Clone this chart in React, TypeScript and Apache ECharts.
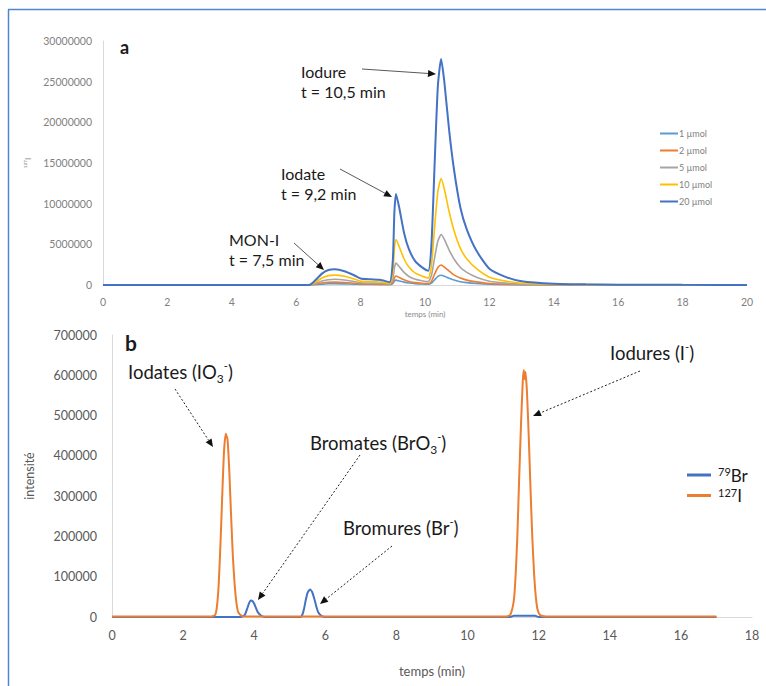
import React, { useEffect, useRef } from "react";
import * as echarts from "echarts";

// ---------- Chart a : 127I chromatograms at several concentrations ----------
const timesA = [0, 6.4, 6.6, 6.8, 7.0, 7.2, 7.5, 7.8, 8.0, 8.3, 8.6, 8.9, 9.0, 9.05, 9.1, 9.2, 9.35, 9.5, 9.7, 9.9, 10.1, 10.2, 10.3, 10.4, 10.5, 10.6, 10.75, 10.9, 11.1, 11.3, 11.6, 12.0, 12.5, 13.0, 14.0, 15.0, 16.0, 18.0, 20.0];
const umol1 = [0, 0, 45000, 110000, 150000, 160000, 140000, 100000, 65000, 55000, 50000, 28000, 160000, 480000, 600000, 500000, 350000, 240000, 160000, 120000, 90000, 220000, 650000, 1050000, 1200000, 1080000, 820000, 610000, 410000, 290000, 180000, 86000, 43000, 20000, 7000, 4000, 2000, 1000, 500];
const umol2 = [0, 0, 100000, 240000, 330000, 350000, 310000, 220000, 140000, 120000, 110000, 60000, 300000, 850000, 1100000, 920000, 640000, 440000, 290000, 220000, 175000, 450000, 1350000, 2150000, 2450000, 2200000, 1700000, 1250000, 850000, 600000, 380000, 180000, 90000, 40000, 15000, 8000, 4000, 2000, 1000];
const umol5 = [0, 0, 200000, 480000, 650000, 700000, 620000, 430000, 280000, 240000, 220000, 120000, 700000, 2100000, 2700000, 2250000, 1550000, 1050000, 700000, 530000, 420000, 1150000, 3400000, 5400000, 6200000, 5600000, 4300000, 3200000, 2150000, 1550000, 950000, 460000, 230000, 100000, 40000, 20000, 10000, 5000, 2000];
const umol10 = [0, 0, 350000, 850000, 1150000, 1220000, 1080000, 750000, 480000, 400000, 370000, 200000, 1500000, 4500000, 5600000, 4700000, 3200000, 2200000, 1450000, 1100000, 850000, 2400000, 7200000, 11500000, 13100000, 11800000, 9000000, 6700000, 4500000, 3200000, 2000000, 950000, 480000, 220000, 80000, 40000, 20000, 10000, 5000];
const umol20 = [0, 0, 600000, 1400000, 1850000, 1930000, 1700000, 1200000, 800000, 700000, 650000, 350000, 3000000, 9000000, 11200000, 9500000, 6400000, 4400000, 2900000, 2200000, 1750000, 5000000, 15000000, 24500000, 27800000, 25000000, 19000000, 14200000, 9500000, 6800000, 4200000, 2000000, 1000000, 450000, 150000, 80000, 40000, 20000, 10000];
const seriesNamesA = ["1 µmol", "2 µmol", "5 µmol", "10 µmol", "20 µmol"];
const seriesValuesA = [umol1, umol2, umol5, umol10, umol20];
const colorsA = ["#5b9bd5", "#ed7d31", "#a5a5a5", "#ffc000", "#4472c4"];

// ---------- Chart b : 79Br and 127I ----------
const brTimes = [0, 3.6, 3.7, 3.75, 3.8, 3.85, 3.9, 3.95, 4.0, 4.05, 4.1, 4.2, 4.3, 5.3, 5.35, 5.4, 5.45, 5.5, 5.57, 5.63, 5.7, 5.75, 5.8, 5.9, 6.0, 11.2, 11.3, 11.9, 12.0, 17.0];
const brValues = [0, 0, 2000, 8000, 20000, 33000, 41000, 40000, 33000, 22000, 12000, 3000, 0, 0, 5000, 20000, 42000, 60000, 68000, 62000, 42000, 25000, 12000, 2000, 0, 0, 3000, 3000, 0, 0];
const iTimes = [0, 2.8, 2.9, 2.95, 3.0, 3.05, 3.1, 3.15, 3.2, 3.25, 3.3, 3.35, 3.4, 3.45, 3.5, 3.55, 3.65, 3.8, 11.1, 11.2, 11.3, 11.35, 11.4, 11.45, 11.5, 11.55, 11.58, 11.61, 11.63, 11.67, 11.72, 11.77, 11.82, 11.87, 11.92, 11.97, 12.05, 12.2, 17.0];
const iValues = [1500, 1500, 5000, 25000, 80000, 180000, 300000, 410000, 455000, 440000, 360000, 250000, 150000, 80000, 35000, 12000, 3000, 1500, 1500, 5000, 40000, 100000, 200000, 340000, 470000, 580000, 613000, 590000, 608000, 560000, 450000, 320000, 200000, 110000, 50000, 18000, 4000, 1500, 1500];
const seriesNamesB = ["79Br", "127I"];
const colorsB = ["#4472c4", "#ed7d31"];

const FONT = "Lato, 'Open Sans', sans-serif";

function zip(t: number[], v: number[]) {
  return t.map((x, i) => [x, v[i]]);
}

function arrow(x1: number, y1: number, x2: number, y2: number, color: string, dash?: number[]) {
  const a = Math.atan2(y2 - y1, x2 - x1);
  const L = 8, W = 3.5;
  const bx = x2 - L * Math.cos(a), by = y2 - L * Math.sin(a);
  const px = -Math.sin(a) * W, py = Math.cos(a) * W;
  return [
    { type: "line", shape: { x1, y1, x2: bx, y2: by }, style: { stroke: color, lineWidth: 1, lineDash: dash }, silent: true },
    { type: "polygon", shape: { points: [[x2, y2], [bx + px, by + py], [bx - px, by - py]] }, style: { fill: "#111" }, silent: true },
  ];
}

function txt(x: number, y: number, text: string, size: number, bold = false, rich?: any) {
  return {
    type: "text",
    x,
    y,
    silent: true,
    style: {
      text,
      fontFamily: FONT,
      fontSize: size,
      fontWeight: bold ? "bold" : "normal",
      fill: "#1a1a1a",
      verticalAlign: "middle",
      align: "left",
      rich,
    },
  };
}

const richB = {
  n: { fontFamily: FONT, fontSize: 18.5, lineHeight: 24, fill: "#1a1a1a", verticalAlign: "middle" },
  sub: { fontFamily: FONT, fontSize: 12, lineHeight: 12, fill: "#1a1a1a", verticalAlign: "bottom" },
  sup: { fontFamily: FONT, fontSize: 11, lineHeight: 14, fill: "#1a1a1a", verticalAlign: "top" },
};

const plain = (v: number) => String(v);

export default function App() {
  const ref = useRef<HTMLDivElement>(null);
  useEffect(() => {
    document.body.style.margin = "0";
    if (!ref.current) return;
    const chart = echarts.init(ref.current, undefined, { renderer: "svg" });

    const seriesA = seriesNamesA.map((name, i) => ({
      name,
      type: "line",
      xAxisIndex: 0,
      yAxisIndex: 0,
      data: zip(timesA, seriesValuesA[i]),
      showSymbol: false,
      symbol: "none",
      smooth: 0.2,
      lineStyle: { width: i === 4 ? 2 : 1.6, color: colorsA[i] },
      itemStyle: { color: colorsA[i] },
    }));

    const seriesB = [
      { name: seriesNamesB[0], data: zip(brTimes, brValues), color: colorsB[0] },
      { name: seriesNamesB[1], data: zip(iTimes, iValues), color: colorsB[1] },
    ].map((s) => ({
      name: s.name,
      type: "line",
      xAxisIndex: 1,
      yAxisIndex: 1,
      data: s.data,
      showSymbol: false,
      symbol: "none",
      smooth: 0.2,
      lineStyle: { width: 2, color: s.color },
      itemStyle: { color: s.color },
    }));

    const option: any = {
      animation: false,
      backgroundColor: "#ffffff",
      textStyle: { fontFamily: FONT },
      grid: [
        { left: 103, top: 41, width: 644, height: 244 },
        { left: 112, top: 335, width: 640, height: 282 },
      ],
      xAxis: [
        {
          gridIndex: 0,
          type: "value",
          min: 0,
          max: 20,
          interval: 2,
          name: "temps (min)",
          nameLocation: "middle",
          nameGap: 25,
          nameTextStyle: { fontSize: 8, color: "#8a8a8a", fontFamily: FONT },
          axisLine: { show: true, lineStyle: { color: "#d9d9d9", width: 1 } },
          axisTick: { show: false },
          splitLine: { show: false },
          axisLabel: { fontSize: 10.5, color: "#7f7f7f", margin: 11, fontFamily: FONT, formatter: plain },
        },
        {
          gridIndex: 1,
          type: "value",
          min: 0,
          max: 18,
          interval: 2,
          name: "temps (min)",
          nameLocation: "middle",
          nameGap: 47,
          nameTextStyle: { fontSize: 13, color: "#595959", fontFamily: FONT },
          axisLine: { show: true, lineStyle: { color: "#d9d9d9", width: 1 } },
          axisTick: { show: false },
          splitLine: { show: false },
          axisLabel: { fontSize: 12.5, color: "#595959", margin: 12, fontFamily: FONT, formatter: plain },
        },
      ],
      yAxis: [
        {
          gridIndex: 0,
          type: "value",
          min: 0,
          max: 30000000,
          interval: 5000000,
          name: "¹²⁷I",
          nameLocation: "middle",
          nameRotate: 90,
          nameGap: 66,
          nameTextStyle: { fontSize: 8, color: "#8a8a8a", fontFamily: FONT },
          axisLine: { show: true, lineStyle: { color: "#d9d9d9", width: 1 } },
          axisTick: { show: false },
          splitLine: { show: false },
          axisLabel: { fontSize: 10.5, color: "#7f7f7f", margin: 11, fontFamily: FONT, formatter: plain },
        },
        {
          gridIndex: 1,
          type: "value",
          min: 0,
          max: 700000,
          interval: 100000,
          name: "intensité",
          nameLocation: "middle",
          nameRotate: 90,
          nameGap: 76,
          nameTextStyle: { fontSize: 12.5, color: "#595959", fontFamily: FONT },
          axisLine: { show: true, lineStyle: { color: "#d9d9d9", width: 1 } },
          axisTick: { show: false },
          splitLine: { show: false },
          axisLabel: { fontSize: 12.5, color: "#595959", margin: 15, fontFamily: FONT, formatter: plain },
        },
      ],
      legend: [
        {
          data: seriesNamesA,
          orient: "vertical",
          left: 655,
          top: 123,
          icon: "rect",
          itemWidth: 18,
          itemHeight: 2,
          itemGap: 6,
          textStyle: { fontSize: 9, color: "#7f7f7f", fontFamily: FONT, lineHeight: 11, padding: [0, 0, 0, -4] },
        },
        {
          data: seriesNamesB,
          orient: "vertical",
          left: 682,
          top: 461,
          icon: "rect",
          itemWidth: 24,
          itemHeight: 3,
          itemGap: 3,
          formatter: (name: string) => (name === "79Br" ? "{sup|79}{n|Br}" : "{sup|127}{n|I}"),
          textStyle: {
            fontFamily: FONT,
            padding: [0, 0, 0, 2],
            rich: {
              sup: { fontSize: 11, lineHeight: 18, verticalAlign: "top", color: "#1a1a1a", fontFamily: FONT },
              n: { fontSize: 17, lineHeight: 18, color: "#1a1a1a", fontFamily: FONT },
            },
          },
        },
      ],
      series: [...seriesA, ...seriesB],
      graphic: [
        // outer frame
        { type: "line", shape: { x1: 8.5, y1: 9.5, x2: 8.5, y2: 686 }, style: { stroke: "#4f86cf", lineWidth: 1.5 }, silent: true },
        { type: "line", shape: { x1: 8, y1: 9.5, x2: 766, y2: 9.5 }, style: { stroke: "#4f86cf", lineWidth: 1.5 }, silent: true },
        // chart a annotations
        txt(120, 47, "a", 18, true),
        txt(301, 71, "Iodure", 16),
        txt(301, 91, "t = 10,5 min", 16),
        txt(281, 173, "Iodate", 16),
        txt(281, 193, "t = 9,2 min", 16),
        txt(229, 239, "MON-I", 16),
        txt(229, 259, "t = 7,5 min", 16),
        ...arrow(362, 69, 436, 74, "#595959"),
        ...arrow(340, 169, 392, 197, "#595959"),
        ...arrow(294, 243, 324, 270, "#595959"),
        // chart b annotations
        txt(125, 342, "b", 21, true),
        txt(128, 372, "{n|Iodates (IO}{sub|3}{sup|-}{n|)}", 18.5, false, richB),
        txt(310, 443, "{n|Bromates (BrO}{sub|3}{sup|-}{n|)}", 18.5, false, richB),
        txt(343, 528, "{n|Bromures (Br}{sup|-}{n|)}", 18.5, false, richB),
        txt(610, 353, "{n|Iodures (I}{sup|-}{n|)}", 18.5, false, richB),
        ...arrow(175, 389, 213, 447, "#222", [2, 2]),
        ...arrow(360, 455, 258, 600, "#222", [2, 2]),
        ...arrow(392, 546, 320, 604, "#222", [2, 2]),
        ...arrow(640, 371, 533, 416, "#222", [2, 2]),
      ],
    };
    chart.setOption(option);
    return () => chart.dispose();
  }, []);
  return <div ref={ref} style={{ width: 766, height: 686 }} />;
}
